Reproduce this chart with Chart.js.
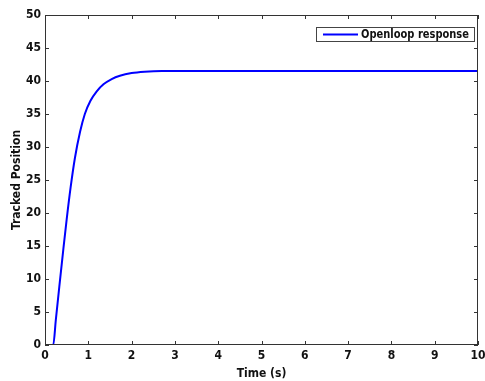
<!DOCTYPE html>
<html>
<head>
<meta charset="utf-8">
<title>Openloop response</title>
<style>
  html, body { margin: 0; padding: 0; background: #fff; }
  #wrap { position: relative; width: 485px; height: 381px; }
</style>
</head>
<body>
<div id="wrap"><canvas id="chart" width="485" height="381"></canvas></div>
<script src="https://cdn.jsdelivr.net/npm/chart.js"></script>
<script>
// data
var timeS = [0, 0.19, 0.25, 0.33, 0.42, 0.5, 0.59, 0.69, 0.81, 0.92, 1.05, 1.19, 1.35, 1.54, 1.73, 2.0, 2.3, 2.7, 3.2, 10];
var position = [0, 0, 3.8, 8.8, 14.3, 19, 23.8, 28.3, 32.3, 35, 37, 38.4, 39.5, 40.3, 40.8, 41.2, 41.4, 41.5, 41.5, 41.5];
var seriesLabel = 'Openloop response';
var xTicks = [0, 1, 2, 3, 4, 5, 6, 7, 8, 9, 10];
var yTicks = [0, 5, 10, 15, 20, 25, 30, 35, 40, 45, 50];

var FONT = "'Liberation Sans Narrow', 'DejaVu Sans Condensed', Arial, sans-serif";
var points = timeS.map(function (t, i) { return { x: t, y: position[i] }; });

// frame + inward ticks on all four sides, matlab style
var framePlugin = {
  id: 'frame',
  afterDraw: function (chart) {
    var ctx = chart.ctx, a = chart.chartArea;
    var xs = chart.scales.x, ys = chart.scales.y;
    ctx.save();
    ctx.strokeStyle = '#333';
    ctx.lineWidth = 1;
    ctx.strokeRect(a.left + 0.5, a.top + 0.5, a.right - a.left - 1, a.bottom - a.top - 1);
    ctx.beginPath();
    xTicks.forEach(function (v) {
      var px = Math.round(xs.getPixelForValue(v)) + 0.5;
      ctx.moveTo(px, a.bottom); ctx.lineTo(px, a.bottom - 4);
      ctx.moveTo(px, a.top); ctx.lineTo(px, a.top + 4);
    });
    yTicks.forEach(function (v) {
      var py = Math.round(ys.getPixelForValue(v)) + 0.5;
      ctx.moveTo(a.left, py); ctx.lineTo(a.left + 4, py);
      ctx.moveTo(a.right, py); ctx.lineTo(a.right - 4, py);
    });
    ctx.stroke();

    // legend box inside plot, top right
    var bx = a.right - 162, by = a.top + 12, bw = 158, bh = 14;
    ctx.fillStyle = '#fff';
    ctx.fillRect(bx, by, bw, bh);
    ctx.strokeStyle = '#444';
    ctx.strokeRect(bx + 0.5, by + 0.5, bw, bh);
    ctx.strokeStyle = '#0000ff';
    ctx.lineWidth = 2;
    ctx.beginPath();
    ctx.moveTo(bx + 7, by + 7.5); ctx.lineTo(bx + 42, by + 7.5);
    ctx.stroke();
    ctx.fillStyle = '#111';
    ctx.font = 'bold 12px ' + FONT;
    ctx.textBaseline = 'middle';
    var w = ctx.measureText(seriesLabel).width;
    var k = Math.min(1, 108 / w);
    ctx.translate(bx + 45, by + 8);
    ctx.scale(k, 1);
    ctx.fillText(seriesLabel, 0, 0);
    ctx.restore();
  }
};

var ctx = document.getElementById('chart').getContext('2d');
var chart = new Chart(ctx, {
  type: 'line',
  data: {
    datasets: [{
      label: seriesLabel,
      data: points,
      borderColor: '#0000ff',
      borderWidth: 2,
      pointRadius: 0,
      fill: false,
      cubicInterpolationMode: 'monotone'
    }]
  },
  options: {
    responsive: false,
    animation: false,
    layout: { padding: { top: 15, right: 7, left: 0, bottom: 0 } },
    plugins: { legend: { display: false }, tooltip: { enabled: false } },
    scales: {
      x: {
        type: 'linear', min: 0, max: 10,
        afterBuildTicks: function (s) { s.ticks = xTicks.map(function (v) { return { value: v }; }); },
        afterFit: function (s) { s.height = 36; s.paddingRight = 0; s.paddingLeft = 0; },
        grid: { display: false, drawTicks: false },
        border: { display: false },
        ticks: { color: '#111', padding: 4, maxRotation: 0, font: { family: FONT, size: 12, weight: 'bold' } },
        title: { display: true, text: 'Time (s)', color: '#111', padding: { top: 0, bottom: 0 }, font: { family: FONT, size: 12, weight: 'bold' } }
      },
      y: {
        min: 0, max: 50,
        afterBuildTicks: function (s) { s.ticks = yTicks.map(function (v) { return { value: v }; }); },
        afterFit: function (s) { s.width = 45; s.paddingTop = 0; s.paddingBottom = 0; },
        grid: { display: false, drawTicks: false },
        border: { display: false },
        ticks: { color: '#111', padding: 4, font: { family: FONT, size: 12, weight: 'bold' } },
        title: { display: true, text: 'Tracked Position', color: '#111', padding: { top: 10, bottom: 0 }, font: { family: FONT, size: 12, weight: 'bold' } }
      }
    }
  },
  plugins: [framePlugin]
});
</script>
</body>
</html>
